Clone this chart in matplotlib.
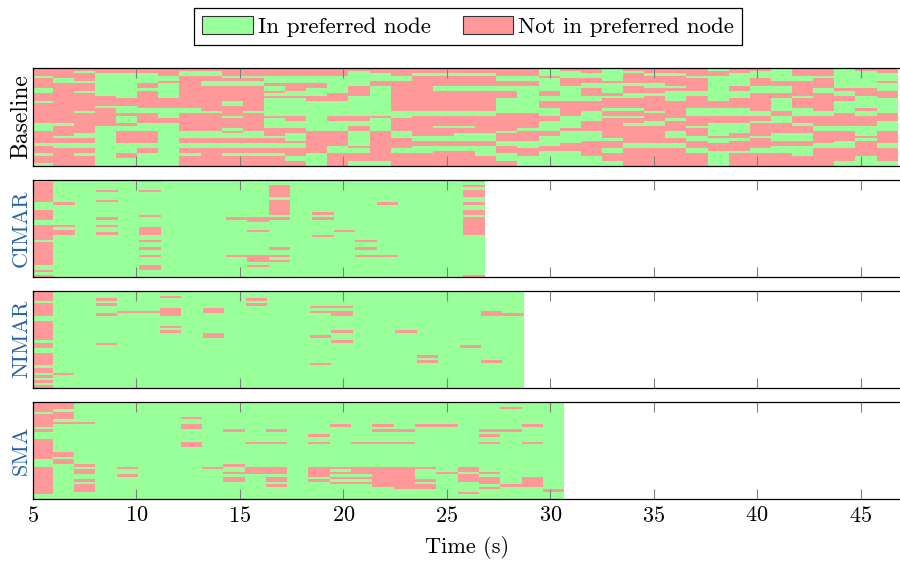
import numpy as np
import matplotlib
matplotlib.use("Agg")
import matplotlib.pyplot as plt
from matplotlib.colors import ListedColormap
from matplotlib.patches import Patch

plt.rcParams['font.family'] = ['cmr10', 'DejaVu Serif']
plt.rcParams['mathtext.fontset'] = 'cm'
plt.rcParams['axes.formatter.use_mathtext'] = True
plt.rcParams['axes.unicode_minus'] = False

# ---------------------------------------------------------------------------
# Data: one entry per sampling interval, rows = worker threads (top to bottom)
# ---------------------------------------------------------------------------
n_threads = 39

# Baseline: one string per sample, 'R' = thread not in its preferred node
baseline_cols = [
    "RRRGRRRRGGRRRGRRRRRRRRGGGRRRRRGRRRGRRRG",
    "RRRRGGRRRRRRRRRRRRRRRRGRRRRGRRGGRRRRRRR",
    "RGRRRGRRRGRRRRRRRGRRRRRRRRGGRRGGRRGRRRR",
    "RRGGGGGGGGGRRRRGRRRRRRRGGGGGGGGGGGGGGGG",
    "RRGGGGGGGGGGRRRGGGRGGGRGGRRRRRGGGGRRGGG",
    "RRGGGGRRGRRRRRRRGGRRRRGGGRRRRRGGRRGGGGG",
    "RRRGGRGGGGGGRRRRGGGGRRGGGGGGGGGGGGGGGGG",
    "RGGRRRRRRRRRRRRRGGRRRRRRRGGGRRGGRRGRRRR",
    "RGGRRGGRRRRRRRRRRGRRRRRRRGGGRRGGRRRRRRR",
    "RRRGRGGRRRRRRGGRRRRGRRRRGRGGRRGGRRGRRRR",
    "RRRGRGGRRRRRRRRRRGRRRRRRRGGGRRGGRRGRRRR",
    "RRRGGGRGGRGRGGGGGGGRGGGGRRRGRRGGRRGRRRR",
    "RRRGGGRRRGGRGGGGGGGRRGGGRRGGGRGGRRRGGRR",
    "RRRGGGRRGGGRRGGGGGGGGGGGGRRRRRRRRRGGGGG",
    "RRRGGGGGGGRRRGGGGGGRRGGGGRRRRRRGGGRRRRR",
    "RGGGGGGRRRRGGGGGGGGRRGGRRGGGGGGRGGRRRGG",
    "RRGGGRRGGGGGGGGGGGGRGGGGGRRRRRRRRRRRRGG",
    "RRRGGRRRRRRRRRRRRGGGRRRRRGGGRRRRGGRRRRR",
    "RRGRRRRRRRRRRRRRRGGRRRRRRRRGGRRGGGRRRRR",
    "RRGRRRRGGRRRRRRRRGGRRRRGRRRGGRRGGRRRRRR",
    "RRGRRRRGGRRRRRRRRGGRRRRGRRGGGRRGGRRRRRR",
    "RRGRRRRGGRRRRRRRRGGRRRRRRRGGGRRGGGGRRRR",
    "RRRGGRRGGRRRGGGGGGRRRRRRRGRRRGGRRRGGGRR",
    "RRRGGRRGGGGGGGGGGGRRRRRRGRRRRGGGRRRGGGG",
    "GGGRGGGGGRRGGRRRGGGRRGGGGRRGGGGRRGGGGGG",
    "RGGGRRRGGGGGGRRRRRRGGGGGRGGGGGRRRGGGGGG",
    "RRGGRRGGRRRGGRRRRGGGGRRRRGGGGRRRRRRGGGG",
    "GGGGGRGGGGRGRRRRGRRGRRRRRRRRGRRRGGRRRGG",
    "RGRRRRGRRRGGRRRRGRRGRRGRRRRRRRGGRRRRRRR",
    "RRGRRRGGRRGRRRRRRGRRRGGRRRRRRRGGRRRRRRR",
    "RRGRRRRGRGGGGRRRRRRRGRRRRGGGRRGGRRRRRRR",
    "RRRGRRRRRGGRRRRRGGGRRRRGRRRGGRRRGGRRRRR",
    "GRRGGGGGGGGGGRRRGGGRRRGGGGGRGGRRRGGGGGG",
    "RRGGGGGRRGGGRRRRGGGRRRGGGGRRGRRRRGRRRRR",
    "RGGGRRRGGGRRRRRRRGGRRGRRRRRGRRRRGGRRRRR",
    "GGGGGRRGGGRRGGGGGRRGGGRRRRGGGRRGGGRRRRR",
    "RRRGGRRRRRRGRRRRGGGRRRGRRRGGGRRGGGGRRRR",
    "RRRGRRRRGGRRRRRRRGGRRRRGGRRRRRGGRRRRRRR",
    "GGGGGGGGRGGRRGGGGGRRRRRGGRRRRGGGRRRRRGG",
    "RGGGGGGGRRRGGGGGRGGRRRRGGGGRGRRRRRRGGGG",
    "RRGGGRGGGRRRGGGGGGRRRGGGGRRRRRGGRRRRRGG",
]

# Migration-aware runs: per sample, the threads outside their preferred node
cimar_red = [
    [1, 2, 3, 4, 5, 6, 7, 8, 12, 13, 14, 15, 18, 19, 20, 21, 22, 23,
     25, 26, 27, 28, 29, 30, 31, 32, 33, 36, 38],
    [9, 18, 20, 21],
    [],
    [4, 8, 15, 18, 21],
    [],
    [0, 4, 14, 19, 20, 21, 24, 27, 30, 34, 35],
    [],
    [],
    [],
    [15, 30],
    [15, 16, 20, 30, 31, 32, 34],
    [2, 3, 4, 5, 6, 8, 9, 10, 11, 12, 13, 15, 27, 30, 32],
    [],
    [13, 15, 22],
    [20],
    [24, 27, 30],
    [9, 30],
    [],
    [],
    [],
    [0, 2, 4, 5, 6, 9, 12, 13, 15, 16, 17, 18, 19, 20, 21, 38],
]

nimar_red = [
    [0, 1, 2, 3, 5, 6, 7, 8, 9, 12, 13, 14, 15, 16, 17, 18, 19, 21, 22,
     25, 26, 27, 28, 29, 31, 32, 34, 36, 38],
    [33],
    [],
    [3, 5, 9, 21],
    [8],
    [8],
    [2, 7, 8, 9, 14, 16],
    [],
    [7, 8, 17, 18],
    [],
    [3, 5],
    [],
    [],
    [6, 8, 18, 29],
    [6, 8, 9, 16, 20],
    [],
    [],
    [16],
    [26, 28],
    [],
    [22],
    [8, 9, 28],
    [9],
]

sma_red = [
    [0, 1, 2, 3, 5, 6, 7, 8, 9, 11, 15, 16, 17, 18, 19, 20, 21, 22,
     26, 27, 28, 29, 30, 31, 32, 33, 34, 35, 36],
    [0, 1, 2, 4, 5, 6, 8, 20, 21, 23, 24],
    [8, 25, 27, 28, 31, 33, 34, 35],
    [],
    [26, 29],
    [],
    [],
    [6, 9, 10, 16, 17],
    [26],
    [11, 25, 28, 30, 31],
    [16, 26, 27, 28],
    [11, 16, 26, 27, 28, 30, 31, 33],
    [],
    [13, 16, 26, 27, 28, 29, 31],
    [9, 26, 28, 30, 32],
    [16, 26, 27, 28, 30, 32],
    [9, 11, 16, 26, 27, 28, 29, 30, 31, 32, 33],
    [11, 16, 26, 27, 28, 29, 30, 31, 32, 33, 34],
    [9, 26, 31, 33, 34],
    [9, 28],
    [26, 27, 29, 30, 31, 36],
    [11, 13, 16, 28, 30, 31, 32, 34],
    [2, 11, 33],
    [9, 16, 30, 31, 32, 33],
    [35],
]

run_names = ["Baseline", "CIMAR", "NIMAR", "SMA"]
run_name_colors = ["black", "#2461a6", "#2461a6", "#2461a6"]
run_name_sizes = [17, 16, 16, 16]
run_start_s = 4.93
run_end_s = [46.79, 26.83, 28.72, 30.67]
x_ticks = [5, 10, 15, 20, 25, 30, 35, 40, 45]
legend_labels = ["In preferred node", "Not in preferred node"]

# ---------------------------------------------------------------------------
GREEN = "#99ff99"
RED = "#ff9999"
cmap = ListedColormap([GREEN, RED])


def matrix_from_strings(cols):
    return np.array([[ch == "R" for ch in col] for col in cols], dtype=float).T


def matrix_from_lists(cols):
    m = np.zeros((n_threads, len(cols)))
    for j, rows in enumerate(cols):
        for r in rows:
            m[r, j] = 1.0
    return m


matrices = [
    matrix_from_strings(baseline_cols),
    matrix_from_lists(cimar_red),
    matrix_from_lists(nimar_red),
    matrix_from_lists(sma_red),
]

W, H = 900, 563
fig = plt.figure(figsize=(W / 100, H / 100), dpi=100)

# panel extents in pixels (top, bottom)
panel_px = [(68.3, 165.7), (179.7, 277.3), (290.7, 387.7), (402.0, 499.0)]
left_px, right_px = 33.0, 901.0
px_per_s = 20.69

axes = []
for i, (name, mat) in enumerate(zip(run_names, matrices)):
    top, bot = panel_px[i]
    ax = fig.add_axes([left_px / W, 1 - bot / H, (right_px - left_px) / W, (bot - top) / H])
    ncol = mat.shape[1]
    x_edges = np.linspace(run_start_s, run_end_s[i], ncol + 1)
    y_edges = np.arange(n_threads + 1)
    ax.pcolormesh(x_edges, y_edges, mat, cmap=cmap, vmin=0, vmax=1,
                  shading="flat", antialiased=False, edgecolors="none")
    ax.set_xlim(5, 5 + (right_px - left_px) / px_per_s)
    ax.set_ylim(n_threads, 0)
    ax.set_yticks([])
    ax.set_xticks(x_ticks)
    ax.tick_params(axis="x", direction="in", length=7.5, width=0.8,
                   color="#808080", top=True, bottom=True,
                   labelbottom=(i == len(run_names) - 1), labelsize=16, pad=5)
    for s in ax.spines.values():
        s.set_linewidth(0.9)
        s.set_color("black")
    ax.spines["right"].set_visible(False)
    fig.text(27 / W, 1 - (top + bot) / 2 / H, name, rotation=90,
             rotation_mode="anchor", ha="center", va="baseline",
             fontsize=run_name_sizes[i], color=run_name_colors[i])
    axes.append(ax)

axes[-1].set_xlabel("Time (s)", fontsize=16, labelpad=7)

handles = [Patch(facecolor=GREEN, edgecolor="#333333", linewidth=0.8),
           Patch(facecolor=RED, edgecolor="#333333", linewidth=0.8)]
leg = fig.legend(handles, legend_labels, loc="upper center",
                 bbox_to_anchor=(468 / W, 1 - 8 / H), ncol=2, fontsize=16.5,
                 frameon=True, fancybox=False, edgecolor="black", framealpha=1,
                 handlelength=2.2, handleheight=0.8, handletextpad=0.22,
                 columnspacing=1.4, borderpad=0.35, borderaxespad=0)
leg.get_frame().set_linewidth(0.9)

fig.savefig("out.png", dpi=100)
